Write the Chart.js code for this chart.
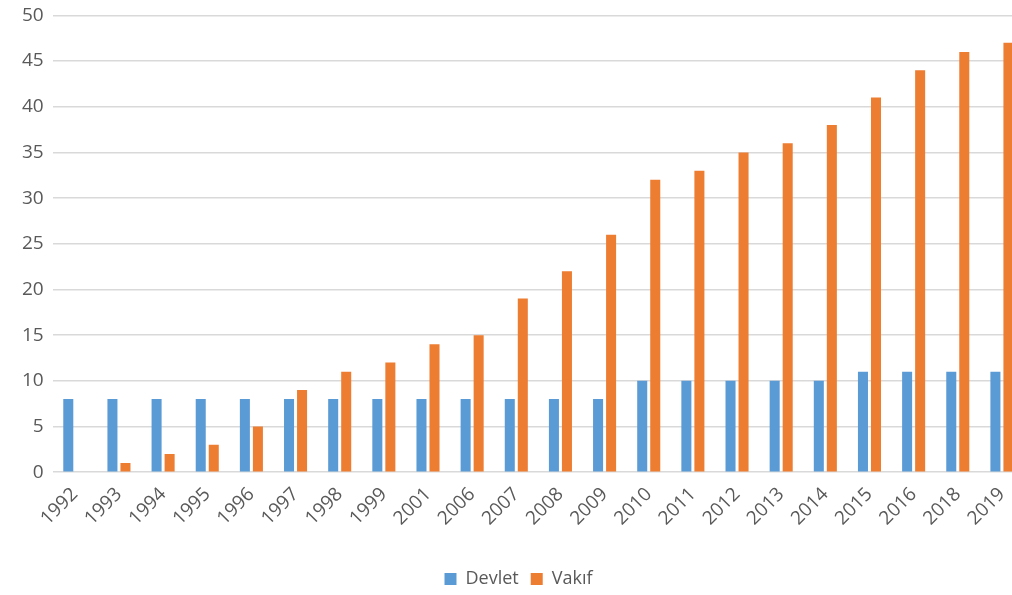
<!DOCTYPE html>
<html>
<head>
<meta charset="utf-8">
<script src="https://cdn.jsdelivr.net/npm/chart.js@4"></script>
<style>
  html, body { margin: 0; padding: 0; background: #fff; overflow: hidden; }
  #wrap { position: relative; top: -5px; width: 1024px; height: 603px; }
</style>
</head>
<body>
<div id="wrap"><canvas id="chart"></canvas></div>
<script>
var years = ["1992", "1993", "1994", "1995", "1996", "1997", "1998", "1999", "2001", "2006", "2007",
             "2008", "2009", "2010", "2011", "2012", "2013", "2014", "2015", "2016", "2018", "2019"];
var devlet = [8, 8, 8, 8, 8, 8, 8, 8, 8, 8, 8, 8, 8, 10, 10, 10, 10, 10, 11, 11, 11, 11];
var vakif = [0, 1, 2, 3, 5, 9, 11, 12, 14, 15, 19, 22, 26, 32, 33, 35, 36, 38, 41, 44, 46, 47];
var yTicks = [0, 5, 10, 15, 20, 25, 30, 35, 40, 45, 50];

var text_color = "#595959";
var font_family = "'Open Sans', 'Noto Sans', sans-serif";

var chart = new Chart(document.getElementById("chart"), {
    type: "bar",
    data: {
        labels: years,
        datasets: [
            { label: "Devlet", data: devlet, backgroundColor: "#5B9BD5" },
            { label: "Vakıf", data: vakif, backgroundColor: "#ED7D31" }
        ]
    },
    options: {
        responsive: true,
        maintainAspectRatio: false,
        animation: { duration: 0 },
        layout: { padding: { top: 0, left: 13, right: 0, bottom: 0 } },
        datasets: {
            bar: { categoryPercentage: 0.59, barPercentage: 0.77 }
        },
        plugins: {
            legend: {
                position: "bottom",
                labels: {
                    boxWidth: 12, boxHeight: 12, padding: 12,
                    color: text_color,
                    font: { family: font_family, size: 18 }
                }
            },
            tooltip: { enabled: false }
        },
        scales: {
            x: {
                grid: { display: false },
                border: { display: false },
                // empty title only keeps a gap between the year labels and the legend
                title: { display: true, text: " ", font: { size: 10 }, padding: { top: 0, bottom: 13 } },
                ticks: {
                    color: text_color,
                    font: { family: font_family, size: 19 },
                    maxRotation: 45, minRotation: 45,
                    autoSkip: false
                }
            },
            y: {
                min: 0, max: 50,
                afterBuildTicks: function(axis) {
                    axis.ticks = yTicks.map(function(v) { return { value: v }; });
                },
                grid: { color: "#d9d9d9", lineWidth: 1.5, drawTicks: false },
                border: { display: false },
                ticks: {
                    color: text_color,
                    padding: 9,
                    font: { family: font_family, size: 19 }
                }
            }
        }
    }
});
</script>
</body>
</html>
